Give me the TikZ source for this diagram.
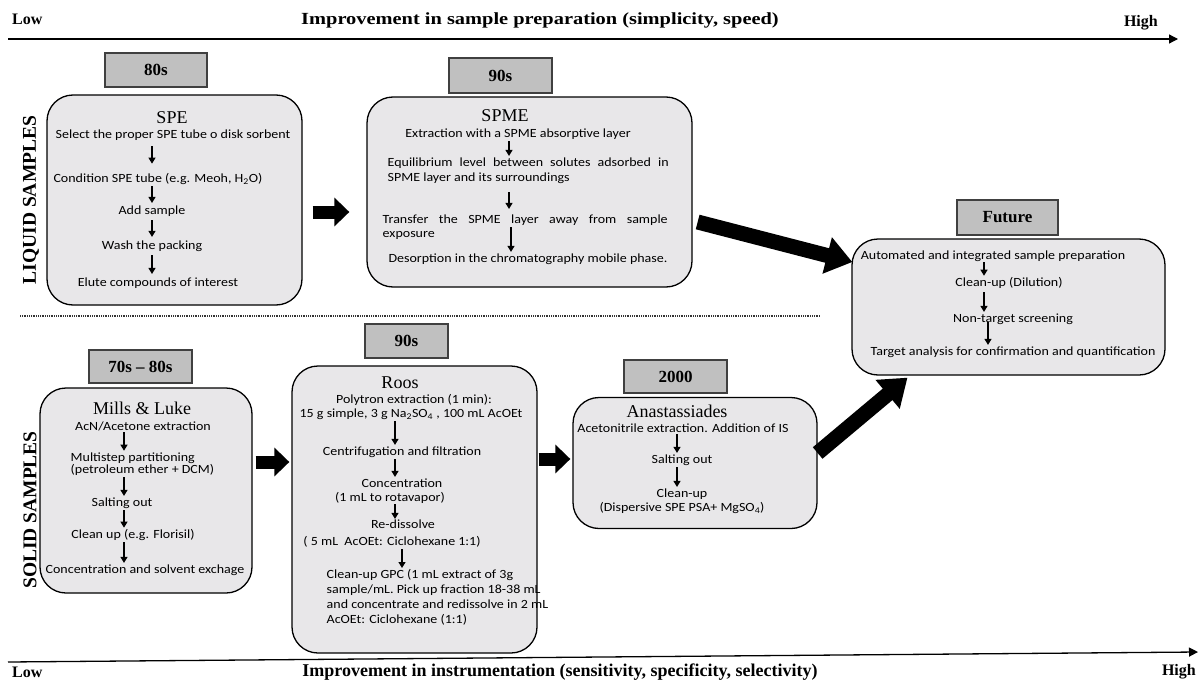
\documentclass[tikz,border=0pt]{standalone}
\usepackage{fontspec}
\setmainfont{Liberation Serif}
\newfontfamily\calfont[FakeStretch=1.12]{Carlito}
\usetikzlibrary{arrows.meta,calc}
\definecolor{boxfill}{HTML}{E8E7E9}
\definecolor{lblfill}{HTML}{C0C0C0}
\definecolor{lbldraw}{HTML}{404040}
\begin{document}
\begin{tikzpicture}[x=1pt,y=-1pt,
 lbl/.style={draw=lbldraw, fill=lblfill, line width=1.3pt, inner sep=0pt, font=\fontsize{17}{17}\selectfont\bfseries},
 pbox/.style={draw=black, fill=boxfill, line width=1.3pt, rounded corners=26pt, inner sep=0pt},
 txt/.style={font=\calfont\fontsize{12.5}{15}\selectfont, inner sep=0.5pt},
 ttl/.style={font=\fontsize{18}{18}\selectfont, inner sep=0.5pt},
 sarr/.style={line width=1.2pt, -{Triangle[length=6pt,width=7pt]}, shorten <=3pt, shorten >=3pt},
 blk/.style={line width=13pt, -{Triangle[length=15pt,width=28pt]}},
 dblk/.style={line width=15pt, -{Triangle[length=26pt,width=36pt]}},
 axis/.style={line width=1.3pt, -{Triangle[length=9pt,width=9pt]}},
 axl/.style={font=\fontsize{16}{16}\selectfont\bfseries, inner sep=0pt},
 side/.style={font=\fontsize{19.5}{19.5}\selectfont\bfseries, rotate=90, inner sep=0pt}
]
\useasboundingbox (0,0) rectangle (1200,680);
\fill[white] (0,0) rectangle (1200,680);

% axes
\coordinate (tl) at (8,39);
\coordinate (tr) at (1178,39);
\draw[axis] (tl) -- (tr);
\node[axl, anchor=base west] (lowt) at (12,24) {Low};
\node[axl, anchor=base] (titt) at (540,24) {\fontsize{17}{17}\selectfont\scalebox{1.2}[1]{Improvement in sample preparation (simplicity, speed)}};
\node[axl, anchor=base east] (hight) at (1158,26) {High};

\coordinate (bl) at (8,662);
\coordinate (br) at (1198,652);
\draw[axis] (bl) -- (br);
\node[axl, anchor=base west] (lowb) at (12,677) {Low};
\node[axl, anchor=base] (titb) at (560,676) {\fontsize{18}{18}\selectfont Improvement in instrumentation (sensitivity, specificity, selectivity)};
\node[axl, anchor=base east] (highb) at (1196,675) {High};

% side labels
\node[side] (liq) at (31,200) {LIQUID SAMPLES};
\node[side] (sol) at (30,510) {SOLID SAMPLES};

% dotted separator
\coordinate (d1) at (20,316);
\coordinate (d2) at (820,316);
\draw[line width=1.4pt, dash pattern=on 1pt off 0.8pt, black!80] (d1) -- (d2);

% main boxes
\node[pbox, minimum width=255pt, minimum height=210pt] (spe) at (174.5,200) {};
\node[pbox, minimum width=325pt, minimum height=190pt] (spme) at (529.5,192) {};
\node[pbox, minimum width=313pt, minimum height=136pt] (future) at (1008.5,307) {};
\node[pbox, minimum width=212pt, minimum height=205pt] (mills) at (146,490.5) {};
\node[pbox, minimum width=245pt, minimum height=287pt] (roos) at (414.5,509.5) {};
\node[pbox, minimum width=244pt, minimum height=131pt] (anas) at (695,463) {};

% period labels
\node[lbl, minimum width=102pt, minimum height=34pt] (l80) at (156,70) {80s};
\node[lbl, minimum width=103pt, minimum height=35pt] (l90a) at (500.5,75.5) {90s};
\node[lbl, minimum width=101pt, minimum height=35pt] (lfut) at (1007.5,217.5) {Future};
\node[lbl, minimum width=103pt, minimum height=33pt] (l7080) at (140.5,366.5) {70s -- 80s};
\node[lbl, minimum width=83pt, minimum height=34pt] (l90b) at (406.5,341) {90s};
\node[lbl, minimum width=103pt, minimum height=33pt] (l2000) at (675.5,376.5) {2000};

% SPE
\coordinate (spex) at (152,0);
\node[ttl] (speT) at (172,118) {SPE};
\node[txt] (s1) at (173,135) {Select the proper SPE tube o disk sorbent};
\node[txt] (s2) at (158,179) {Condition SPE tube (e.g. Meoh, H\textsubscript{2}O)};
\node[txt] (s3) at (152,211) {Add sample};
\node[txt] (s4) at (152,246) {Wash the packing};
\node[txt] (s5) at (158,283) {Elute compounds of interest};
\draw[sarr, shorten <=5pt, shorten >=9pt] (s1.south -| spex) -- (s2.north -| spex);
\draw[sarr, shorten <=1pt, shorten >=2pt] (s2.south -| spex) -- (s3.north -| spex);
\draw[sarr] (s3.south -| spex) -- (s4.north -| spex);
\draw[sarr] (s4.south -| spex) -- (s5.north -| spex);

% SPME
\coordinate (spmx) at (509,0);
\coordinate (spmx2) at (511,0);
\node[ttl] (spmeT) at (505,116) {SPME};
\node[txt] (m1) at (518,134) {Extraction with a SPME absorptive layer};
\node[txt, anchor=west] (m2) at (387,163) {\makebox[281pt][s]{Equilibrium level between solutes adsorbed in}};
\node[txt, anchor=west] (m2b) at (387,178) {SPME layer and its surroundings};
\node[txt, anchor=west] (m3) at (382,220) {\makebox[285pt][s]{Transfer the SPME layer away from sample}};
\node[txt, anchor=west] (m3b) at (382,235) {exposure};
\node[txt] (m4) at (528,259) {Desorption in the chromatography mobile phase.};
\draw[sarr, shorten <=1pt, shorten >=1pt] (m1.south -| spmx) -- (m2.north -| spmx);
\draw[sarr, shorten <=8pt, shorten >=5pt] (m2b.south -| spmx) -- (m3.north -| spmx);
\draw[sarr, shorten <=1pt, shorten >=1pt] (m3.south -| spmx2) -- (m4.north -| spmx2);

% Future
\coordinate (fx) at (984,0);
\coordinate (fx3) at (988,0);
\node[txt] (f1) at (993,256) {Automated and integrated sample preparation};
\node[txt] (f2) at (1009,283) {Clean-up (Dilution)};
\node[txt] (f3) at (1013,319) {Non-target screening};
\node[txt] (f4) at (1013,352) {Target analysis for confirmation and quantification};
\draw[sarr, shorten <=0pt, shorten >=1pt] (f1.south -| fx) -- (f2.north -| fx);
\draw[sarr, shorten <=3pt, shorten >=1pt] (f2.south -| fx) -- (f3.north -| fx);
\draw[sarr, shorten >=1pt] (f3 -| fx3) -- (f4.north -| fx3);

% Mills & Luke
\coordinate (mlx) at (124,0);
\node[ttl] (mlT) at (142,408) {Mills \& Luke};
\node[txt] (k1) at (143,426) {AcN/Acetone extraction};
\node[txt, anchor=west, align=left, font=\calfont\fontsize{12.5}{12.5}\selectfont] (k2) at (70,464) {Multistep partitioning\\(petroleum ether + DCM)};
\node[txt] (k3) at (122,503) {Salting out};
\node[txt] (k4) at (133,535) {Clean up (e.g. Florisil)};
\node[txt] (k5) at (145,570) {Concentration and solvent exchage};
\draw[sarr, shorten <=1pt, shorten >=1pt] (k1.south -| mlx) -- (k2.north -| mlx);
\draw[sarr, shorten <=1pt, shorten >=1pt] (k2.south -| mlx) -- (k3.north -| mlx);
\draw[sarr, shorten <=1pt, shorten >=1pt] (k3.south -| mlx) -- (k4.north -| mlx);
\draw[sarr, shorten <=1pt, shorten >=1pt] (k4.south -| mlx) -- (k5.north -| mlx);

% Roos
\coordinate (rx) at (395,0);
\coordinate (rx2) at (402,0);
\node[ttl] (rT) at (400,383) {Roos};
\node[txt] (r1) at (414,400) {Polytron extraction (1 min):};
\node[txt] (r1b) at (411,414) {15 g simple, 3 g Na\textsubscript{2}SO\textsubscript{4} , 100 mL AcOEt};
\node[txt] (r2) at (402,452) {Centrifugation and filtration};
\node[txt] (r3) at (402,483) {Concentration};
\node[txt] (r3b) at (390,498) {(1 mL to rotavapor)};
\node[txt] (r4) at (403,524) {Re-dissolve};
\node[txt] (r4b) at (392,542) {( 5 mL~ AcOEt: Ciclohexane 1:1)};
\node[txt, anchor=north west, align=left] (r5) at (326,569) {Clean-up GPC (1 mL extract of 3g\\sample/mL. Pick up fraction 18-38 mL\\and concentrate and redissolve in 2 mL\\AcOEt: Ciclohexane (1:1)};
\draw[sarr, shorten <=1pt, shorten >=1pt] (r1b.south -| rx) -- (r2.north -| rx);
\draw[sarr, shorten <=1pt, shorten >=1pt] (r2.south -| rx) -- (r3.north -| rx);
\draw[sarr, shorten <=0pt, shorten >=0pt] (r3b.south -| rx) -- (r4.north -| rx);
\draw[sarr, shorten <=1pt, shorten >=1pt] (r4b.south -| rx2) -- (r5.north -| rx2);

% Anastassiades
\coordinate (ax) at (677,0);
\node[ttl] (aT) at (677,411) {Anastassiades};
\node[txt] (a1) at (683,428) {Acetonitrile extraction. Addition of IS};
\node[txt] (a2) at (682,460) {Salting out};
\node[txt] (a3) at (682,494) {Clean-up};
\node[txt] (a3b) at (682,508) {(Dispersive SPE PSA+ MgSO\textsubscript{4})};
\draw[sarr, shorten <=1pt, shorten >=1pt] (a1.south -| ax) -- (a2.north -| ax);
\draw[sarr, shorten <=1pt, shorten >=1pt] (a2.south -| ax) -- (a3.north -| ax);

% block arrows
\coordinate (y1) at (0,212);
\coordinate (y2) at (0,462);
\coordinate (y3) at (0,459);
\draw[blk, shorten <=10pt, shorten >=17pt] (spe.east |- y1) -- (spme.west |- y1);
\draw[blk, shorten <=3pt, shorten >=2pt] (mills.east |- y2) -- (roos.west |- y2);
\draw[blk, shorten <=1pt, shorten >=2pt] (roos.east |- y3) -- (anas.west |- y3);
\draw[dblk] ($(spme.east)+(5,30)$) -- ($(future.west)+(1,-45)$);
\draw[dblk] ($(anas.east)+(0,-10)$) -- ($(future.south)+(-101,2)$);
\end{tikzpicture}
\end{document}
